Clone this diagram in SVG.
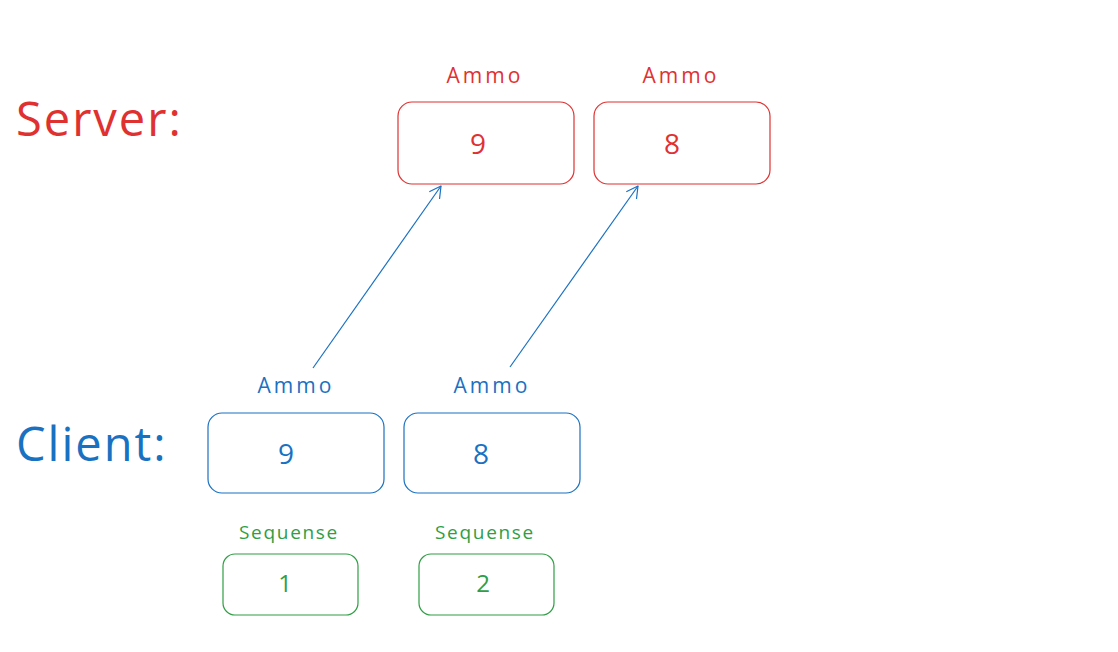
<svg xmlns="http://www.w3.org/2000/svg" width="1118" height="652" viewBox="0 0 1118 652">
<defs>
<marker id="ah" markerWidth="14" markerHeight="14" refX="12" refY="7" orient="auto" markerUnits="userSpaceOnUse">
<path d="M1,1 L12,7 L1,13" fill="none" stroke="#1971c2" stroke-width="1.2" stroke-linecap="round" stroke-linejoin="round"/>
</marker>
<style>
text{font-family:"Open Sans","Liberation Sans",sans-serif;text-anchor:middle}
.red{fill:#e03131}.blue{fill:#1971c2}.green{fill:#2f9e44}
.box{fill:none;stroke-width:1.2}
.rb{stroke:#e03131}.bb{stroke:#1971c2}.gb{stroke:#2f9e44}
.lbl{font-size:21px;letter-spacing:3px}.val{font-size:28px}.seq{font-size:19px;letter-spacing:1.7px}.num{font-size:24px}
.title{font-size:47px;letter-spacing:2px;text-anchor:start}
.conn{stroke:#1971c2;stroke-width:1.2;fill:none}
</style>
</defs>
<rect width="1118" height="652" fill="#ffffff"/>
<g id="server-title"><text class="title red" x="16" y="136">Server:</text></g>
<g id="client-title"><text class="title blue" x="16" y="461">Client:</text></g>
<g id="server-ammo-1">
<text class="lbl red" x="485" y="83">Ammo</text>
<rect class="box rb" x="398" y="102" width="176" height="82" rx="14"/>
<text class="val red" x="478" y="154">9</text>
</g>
<g id="server-ammo-2">
<text class="lbl red" x="681" y="83">Ammo</text>
<rect class="box rb" x="594" y="102" width="176" height="82" rx="14"/>
<text class="val red" x="672" y="154">8</text>
</g>
<g id="client-ammo-1">
<text class="lbl blue" x="296" y="393">Ammo</text>
<rect class="box bb" x="208" y="413" width="176" height="80" rx="14"/>
<text class="val blue" x="286" y="464">9</text>
</g>
<g id="client-ammo-2">
<text class="lbl blue" x="492" y="393">Ammo</text>
<rect class="box bb" x="404" y="413" width="176" height="80" rx="14"/>
<text class="val blue" x="481" y="464">8</text>
</g>
<g id="seq-1">
<text class="seq green" x="289" y="539">Sequense</text>
<rect class="box gb" x="223" y="554" width="135" height="61" rx="12"/>
<text class="num green" x="285" y="592">1</text>
</g>
<g id="seq-2">
<text class="seq green" x="485" y="539">Sequense</text>
<rect class="box gb" x="419" y="554" width="135" height="61" rx="12"/>
<text class="num green" x="483" y="592">2</text>
</g>
<g id="connectors">
<path class="conn" d="M313,368 L441,186" marker-end="url(#ah)"/>
<path class="conn" d="M510,367 L638,186" marker-end="url(#ah)"/>
</g>
</svg>
